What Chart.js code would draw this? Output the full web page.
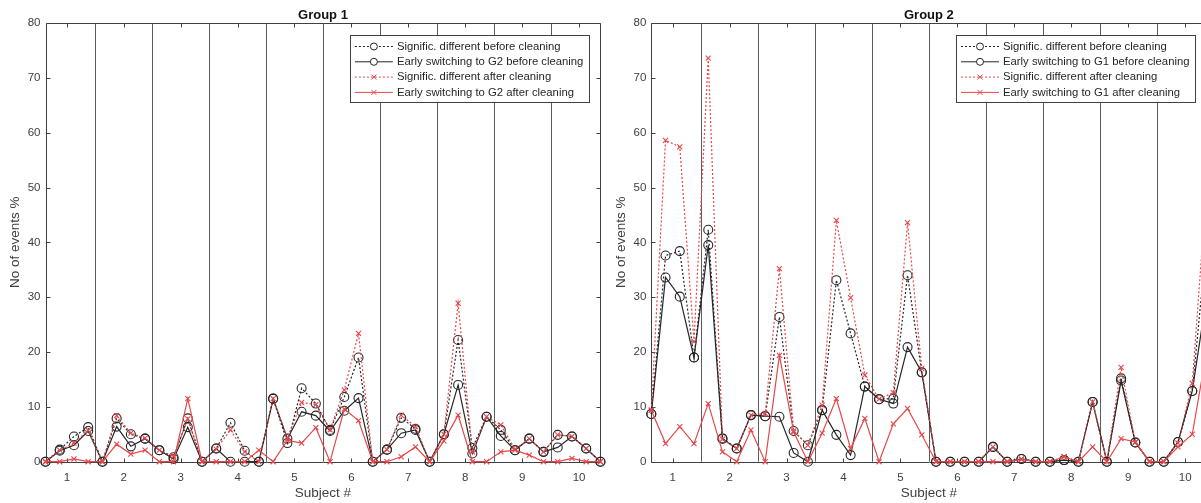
<!DOCTYPE html>
<html>
<head>
<meta charset="utf-8">
<script src="https://cdn.jsdelivr.net/npm/chart.js@4"></script>
<style>
  html, body { margin: 0; padding: 0; background: #fff; overflow: hidden; width: 1201px; height: 503px; }
  #group1 { position: absolute; left: 0; top: 0; }
  #group2 { position: absolute; left: 606px; top: 0; }
</style>
</head>
<body>
<canvas id="group1" width="606" height="503"></canvas>
<canvas id="group2" width="610" height="503"></canvas>
<script>
  // Subjects and the four recording sessions placed around each subject number
  const subjects = [1, 2, 3, 4, 5, 6, 7, 8, 9, 10];
  const sessionOffsets = [-0.375, -0.125, 0.125, 0.375];
  const yTicks = [0, 10, 20, 30, 40, 50, 60, 70, 80];

  // Group 1 (% of events)
  const g1SigBefore = [0, 2.2, 4.6, 6.3, 0, 7.9, 5.0, 4.2, 2.1, 0.8, 7.9, 0, 2.4, 7.1, 2.0, 0,
    11.5, 3.4, 13.4, 10.6, 5.8, 11.8, 19.0, 0, 2.2, 8.0, 6.0, 0, 5.0, 22.2, 2.5, 8.2,
    5.8, 2.1, 4.2, 1.8, 4.9, 4.6, 2.4, 0];
  const g1EarlyBefore = [0, 2.0, 3.0, 5.6, 0, 6.4, 2.8, 4.2, 2.1, 0.5, 6.3, 0, 2.4, 0, 0, 0,
    11.5, 4.2, 9.1, 8.4, 5.6, 9.3, 11.6, 0, 2.2, 5.2, 5.8, 0, 5.0, 14.0, 1.5, 8.2,
    4.7, 2.1, 4.2, 1.8, 2.6, 4.6, 2.4, 0];
  const g1SigAfter = [0, 2.1, 3.4, 5.7, 0, 8.4, 5.2, 4.3, 2.1, 1.0, 7.8, 0, 2.3, 5.8, 1.8, 0,
    11.5, 4.3, 10.8, 10.4, 5.8, 13.1, 23.4, 0, 2.2, 8.5, 6.4, 0, 5.0, 28.9, 1.8, 8.2,
    6.7, 2.3, 4.2, 1.8, 4.9, 4.6, 2.4, 0];
  const g1EarlyAfter = [0, 0, 0.5, 0, 0, 3.2, 1.4, 2.1, 0, 0, 11.5, 0, 0, 0, 0, 2.1,
    0, 3.9, 3.4, 6.2, 0, 9.6, 7.5, 0, 0, 0.9, 2.7, 0, 3.8, 8.5, 0, 0,
    1.8, 2.1, 1.2, 0, 0, 0.6, 0, 0];

  // Group 2 (% of events)
  const g2SigBefore = [8.7, 37.6, 38.4, 19.0, 42.3, 4.2, 2.4, 8.5, 8.3, 26.4, 5.6, 3.0, 9.4, 33.1, 23.4, 13.7,
    11.4, 11.5, 34.0, 16.3, 0, 0, 0, 0, 2.7, 0, 0.5, 0, 0, 0.3, 0, 10.9,
    0, 15.2, 3.5, 0, 0, 3.6, 12.9, 40];
  const g2EarlyBefore = [8.7, 33.6, 30.1, 19.0, 39.5, 4.2, 2.4, 8.5, 8.3, 8.2, 1.6, 0, 9.4, 4.9, 1.2, 13.7,
    11.4, 10.6, 20.9, 16.3, 0, 0, 0, 0, 2.7, 0, 0.5, 0, 0, 0.3, 0, 10.9,
    0, 14.8, 3.5, 0, 0, 3.6, 12.9, 30];
  const g2SigAfter = [9.4, 58.6, 57.4, 21.9, 73.6, 4.1, 2.4, 8.5, 8.8, 35.2, 5.6, 3.0, 10.3, 44.0, 29.9, 15.8,
    11.4, 12.6, 43.6, 17.0, 0, 0, 0, 0, 2.7, 0, 0.5, 0, 0, 0.9, 0, 10.9,
    0, 17.2, 3.5, 0, 0, 3.4, 14.3, 50];
  const g2EarlyAfter = [9.4, 3.3, 6.4, 3.3, 10.6, 1.8, 0, 5.8, 0, 19.4, 5.4, 0, 5.2, 11.5, 2.4, 7.9,
    0, 6.9, 9.7, 4.9, 0, 0, 0, 0, 0, 0, 0.4, 0, 0, 0.9, 0, 2.7,
    0, 4.2, 3.6, 0, 0, 2.7, 5.0, 20];

  const xPos = subjects.flatMap(s => sessionOffsets.map(o => s + o));
  const BLACK = '#262626';
  const RED = '#e5484b';
  const FONT = 'Liberation Sans, Arial, sans-serif';

  function points(values) {
    return values.map((v, i) => ({ x: xPos[i], y: v }));
  }

  function series(label, values, color, dotted, marker, order) {
    return {
      label: label,
      data: points(values),
      borderColor: color,
      backgroundColor: 'rgba(0,0,0,0)',
      borderWidth: 1.2,
      borderDash: dotted ? [2, 2] : [],
      pointStyle: marker,
      pointRadius: marker === 'circle' ? 4.5 : 3.6,
      pointBorderWidth: 1.1,
      pointBorderColor: color,
      pointBackgroundColor: 'rgba(0,0,0,0)',
      tension: 0,
      clip: false,
      order: order
    };
  }

  // MATLAB-like axes box, subject separators, inward ticks, title and boxed legend
  const matlabAxes = {
    id: 'matlabAxes',
    beforeDatasetsDraw(chart) {
      const { ctx, chartArea: a, scales: { x, y } } = chart;
      ctx.save();
      ctx.lineWidth = 1;
      ctx.strokeStyle = '#5c5c5c';
      ctx.beginPath();
      subjects.slice(0, -1).forEach(s => {
        const px = Math.round(x.getPixelForValue(s + 0.5)) + 0.5;
        ctx.moveTo(px, a.top);
        ctx.lineTo(px, a.bottom);
      });
      ctx.stroke();

      ctx.strokeStyle = '#404040';
      ctx.beginPath();
      const l = Math.round(a.left) + 0.5, r = Math.round(a.right) + 0.5;
      const t = Math.round(a.top) + 0.5, b = Math.round(a.bottom) + 0.5;
      ctx.rect(l, t, r - l, b - t);
      subjects.forEach(s => {
        const px = Math.round(x.getPixelForValue(s)) + 0.5;
        ctx.moveTo(px, b); ctx.lineTo(px, b - 4);
        ctx.moveTo(px, t); ctx.lineTo(px, t + 4);
      });
      yTicks.forEach(v => {
        const py = Math.round(y.getPixelForValue(v)) + 0.5;
        ctx.moveTo(l, py); ctx.lineTo(l + 4, py);
        ctx.moveTo(r, py); ctx.lineTo(r - 4, py);
      });
      ctx.stroke();
      ctx.restore();
    },
    afterDraw(chart, args, opts) {
      const { ctx, chartArea: a } = chart;
      ctx.save();
      ctx.fillStyle = '#111';
      ctx.font = 'bold 13px ' + FONT;
      ctx.textAlign = 'center';
      ctx.textBaseline = 'alphabetic';
      ctx.fillText(opts.title, (a.left + a.right) / 2, 19);

      ctx.font = '11.3px ' + FONT;
      const sets = chart.data.datasets;
      const textW = Math.max(...sets.map(d => ctx.measureText(d.label).width));
      const boxW = 47 + textW + 6;
      const boxR = a.right - 11;
      const boxL = boxR - boxW;
      const boxT = a.top + 12;
      const rowH = 15.3;
      const boxH = rowH * sets.length + 6;
      ctx.fillStyle = '#fff';
      ctx.fillRect(boxL, boxT, boxW, boxH);
      ctx.strokeStyle = '#404040';
      ctx.lineWidth = 1;
      ctx.strokeRect(Math.round(boxL) + 0.5, Math.round(boxT) + 0.5, Math.round(boxW), Math.round(boxH));

      sets.forEach((d, i) => {
        const cy = boxT + 11.5 + i * rowH;
        const x0 = boxL + 5, x1 = boxL + 43, cx = (x0 + x1) / 2;
        ctx.strokeStyle = d.borderColor;
        ctx.setLineDash(d.borderDash);
        ctx.beginPath();
        ctx.moveTo(x0, cy); ctx.lineTo(x1, cy);
        ctx.stroke();
        ctx.setLineDash([]);
        ctx.beginPath();
        if (d.pointStyle === 'circle') {
          ctx.arc(cx, cy, 3.5, 0, Math.PI * 2);
          ctx.fillStyle = '#fff';
          ctx.fill();
        } else {
          const r = 2.5;
          ctx.moveTo(cx - r, cy - r); ctx.lineTo(cx + r, cy + r);
          ctx.moveTo(cx - r, cy + r); ctx.lineTo(cx + r, cy - r);
        }
        ctx.stroke();
        ctx.fillStyle = '#262626';
        ctx.textAlign = 'left';
        ctx.textBaseline = 'middle';
        ctx.fillText(d.label, boxL + 47, cy);
      });
      ctx.restore();
    }
  };

  function makeChart(id, title, other, values, axisWidth, rightPad) {
    const ctx = document.getElementById(id).getContext('2d');
    return new Chart(ctx, {
      type: 'line',
      data: {
        datasets: [
          series('Signific. different before cleaning', values[0], BLACK, true, 'circle', 4),
          series('Early switching to ' + other + ' before cleaning', values[1], BLACK, false, 'circle', 3),
          series('Signific. different after cleaning', values[2], RED, true, 'crossRot', 2),
          series('Early switching to ' + other + ' after cleaning', values[3], RED, false, 'crossRot', 1)
        ]
      },
      options: {
        responsive: false,
        animation: false,
        layout: { padding: { top: 23, right: rightPad, bottom: 0, left: 0 } },
        scales: {
          x: {
            type: 'linear',
            min: 0.625,
            max: 10.375,
            afterBuildTicks: s => { s.ticks = subjects.map(v => ({ value: v })); },
            afterFit: s => { s.height = 41.3; },
            grid: { display: false, drawTicks: false },
            border: { display: false },
            ticks: { color: '#404040', font: { family: FONT, size: 11.5 }, padding: 9, maxRotation: 0, autoSkip: false },
            title: { display: true, text: 'Subject #', color: '#404040', font: { family: FONT, size: 13.5 }, padding: { top: 0, bottom: 2 } }
          },
          y: {
            min: 0,
            max: 80,
            afterBuildTicks: s => { s.ticks = yTicks.map(v => ({ value: v })); },
            afterFit: s => { s.width = axisWidth; },
            grid: { display: false, drawTicks: false },
            border: { display: false },
            ticks: { color: '#404040', font: { family: FONT, size: 11.5 }, padding: 5 },
            title: { display: true, text: 'No of events %', color: '#404040', font: { family: FONT, size: 13.5 }, padding: { top: 7, bottom: 0 } }
          }
        },
        plugins: {
          legend: { display: false },
          tooltip: { enabled: false },
          matlabAxes: { title: title }
        }
      },
      plugins: [matlabAxes]
    });
  }

  makeChart('group1', 'Group 1', 'G2', [g1SigBefore, g1EarlyBefore, g1SigAfter, g1EarlyAfter], 45.5, 4.5);
  makeChart('group2', 'Group 2', 'G1', [g2SigBefore, g2EarlyBefore, g2SigAfter, g2EarlyAfter], 45.3, 9.5);
</script>
</body>
</html>
